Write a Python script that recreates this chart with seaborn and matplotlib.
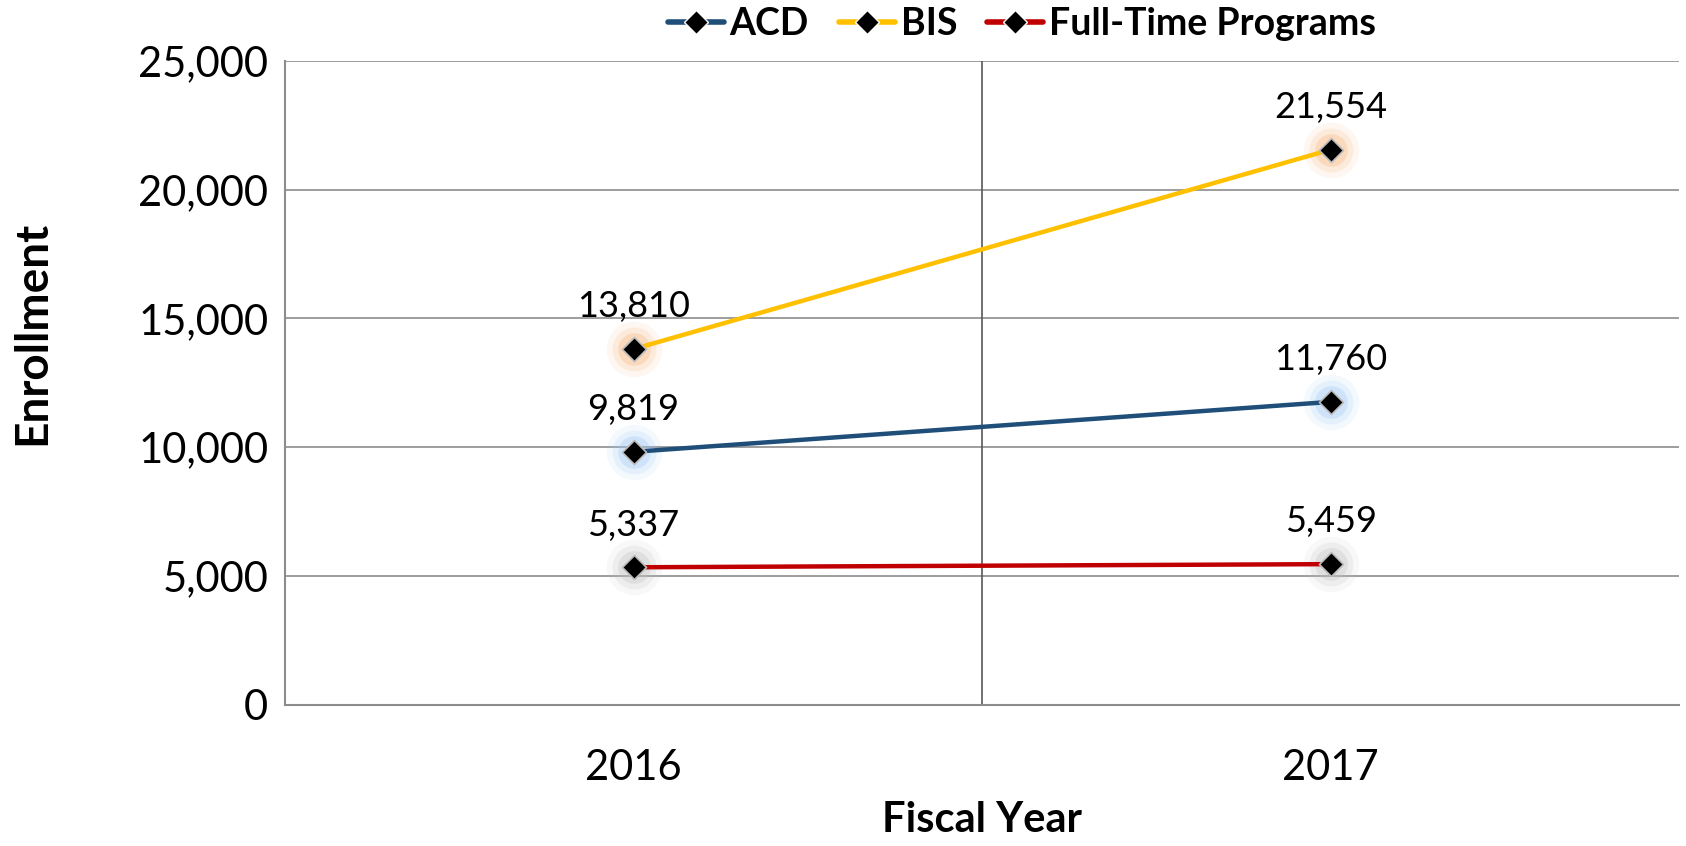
import numpy as np
import pandas as pd
import matplotlib
matplotlib.use("Agg")
import matplotlib.pyplot as plt
import seaborn as sns
from matplotlib.lines import Line2D

years = ["2016", "2017"]
acd = [9819, 11760]
bis = [13810, 21554]
full_time = [5337, 5459]
series_names = ["ACD", "BIS", "Full-Time Programs"]
colors = ["#1F4E79", "#FFC000", "#C00000"]
glows = ["#9CC8F5", "#F8B27A", "#BFBFBF"]

sns.set_style("white")
plt.rcParams["font.family"] = ["Lato", "DejaVu Sans"]
plt.rcParams["text.color"] = "black"
plt.rcParams["axes.labelcolor"] = "black"
plt.rcParams["xtick.color"] = "black"
plt.rcParams["ytick.color"] = "black"

df = pd.DataFrame({
    "year": years * 3,
    "pos": [0, 1] * 3,
    "value": acd + bis + full_time,
    "series": [s for s in series_names for _ in years],
})

fig = plt.figure(figsize=(16.86, 8.46), dpi=100)
ax = fig.add_axes([0.169, 0.167, 0.827, 0.761])

# soft glow under markers
for name, g in zip(series_names, glows):
    sub = df[df["series"] == name]
    for s, a in [(1600, 0.1), (1000, 0.18), (550, 0.3)]:
        ax.scatter(sub["pos"], sub["value"], s=s, color=g, alpha=a, linewidths=0, zorder=2)

sns.lineplot(data=df, x="pos", y="value", hue="series", palette=colors,
             linewidth=3.2, legend=False, ax=ax, zorder=3)
for name in series_names:
    sub = df[df["series"] == name]
    ax.scatter(sub["pos"], sub["value"], marker="D", s=150, color="black",
               edgecolors="#BBBBBB", linewidths=1.2, zorder=4)
    for x, v in zip(sub["pos"], sub["value"]):
        ax.text(x, v + 1000, f"{v:,}", ha="center", va="bottom", fontsize=26, zorder=5)

ax.set_xlim(-0.5, 1.5)
ax.set_ylim(0, 25000)
ax.set_yticks(range(0, 25001, 5000))
ax.set_yticklabels([f"{t:,}" for t in range(0, 25001, 5000)], fontsize=30)
ax.set_xticks([0, 1])
ax.set_xticklabels(years, fontsize=30)
ax.tick_params(axis="both", length=0)
ax.tick_params(axis="x", pad=32)
ax.tick_params(axis="y", pad=12)
ax.yaxis.grid(True, color="#8C8C8C", linewidth=1.2)
ax.axvline(0.5, color="#595959", linewidth=1.2, zorder=1)
for sp in ["top", "right"]:
    ax.spines[sp].set_visible(False)
ax.spines["left"].set_color("#8C8C8C")
ax.spines["bottom"].set_color("#8C8C8C")
ax.spines["left"].set_linewidth(1.5)
ax.spines["bottom"].set_linewidth(1.5)

ax.set_xlabel("Fiscal Year", fontsize=30, fontweight="bold", labelpad=10)
ax.set_ylabel("Enrollment", fontsize=33, fontweight="bold")
ax.yaxis.set_label_coords(-0.166, 0.578)

handles = [Line2D([0], [0], color=c, linewidth=4, marker="D", markersize=12,
                  markerfacecolor="black", markeredgecolor="white") for c in colors]
leg = fig.legend(handles, series_names, loc="center", bbox_to_anchor=(0.606, 0.972),
                 ncol=3, frameon=False, handlelength=1.5, handletextpad=0.15,
                 columnspacing=0.8, prop={"size": 27, "weight": "bold"})

fig.savefig("out.png", dpi=100)
